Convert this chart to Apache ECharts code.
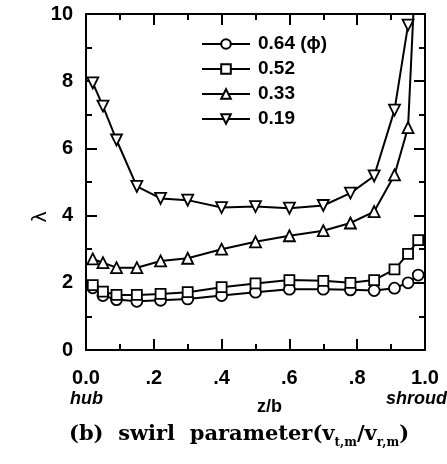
<!DOCTYPE html>
<html>
<head>
<meta charset="utf-8">
<script src="https://cdn.jsdelivr.net/npm/echarts@6/dist/echarts.min.js"></script>
<style>
html, body { margin: 0; padding: 0; background: #fff; }
#chart { width: 447px; height: 464px; }
</style>
</head>
<body>
<div id="chart"></div>
<script>
// z/b positions of measured stations
const zb = [0.02, 0.05, 0.09, 0.15, 0.22, 0.30, 0.40, 0.50, 0.60, 0.70, 0.78, 0.85, 0.91, 0.95, 0.98];
// swirl parameter lambda for each flow coefficient
const phi064 = [1.85, 1.62, 1.50, 1.45, 1.48, 1.52, 1.62, 1.72, 1.81, 1.81, 1.79, 1.77, 1.84, 2.00, 2.23];
const phi052 = [1.93, 1.74, 1.64, 1.64, 1.67, 1.72, 1.87, 1.98, 2.08, 2.06, 2.00, 2.08, 2.40, 2.86, 3.27];
const phi033 = [2.71, 2.60, 2.45, 2.45, 2.65, 2.73, 3.00, 3.22, 3.40, 3.55, 3.78, 4.12, 5.21, 6.62, 13.1];
const phi019 = [7.95, 7.26, 6.25, 4.87, 4.51, 4.46, 4.24, 4.27, 4.22, 4.30, 4.67, 5.18, 7.14, 9.67];
const seriesNames = ['0.64 (\u03d5)', '0.52', '0.33', '0.19'];
const symbols = ['circle', 'rect', 'triangle', 'path://M0,0 L10,0 L5,9 Z'];
const xTickLabels = { 0: '0.0', 2: '.2', 4: '.4', 6: '.6', 8: '.8', 10: '1.0' };
const yTickLabels = [0, 2, 4, 6, 8, 10];

const chart = echarts.init(document.getElementById('chart'));
const sansBold = { fontFamily: 'Liberation Sans', fontWeight: 'bold', fontSize: 20, color: '#000' };

const pairs = (ys) => ys.map((y, i) => [zb[i], y]);
const allData = [phi064, phi052, phi033, phi019];

const axisBase = {
	axisLine: { show: true, onZero: false, lineStyle: { color: '#000', width: 2 } },
	axisTick: { show: true, inside: true, length: 11, lineStyle: { color: '#000', width: 2 } },
	minorTick: { show: true, splitNumber: 2, length: 6, lineStyle: { color: '#000', width: 2 } },
	splitLine: { show: false },
};

const option = {
	animation: false,
	grid: { left: 86, right: 22, top: 14, bottom: 114 },
	legend: {
		orient: 'vertical',
		left: 196,
		top: 29,
		itemWidth: 48,
		itemHeight: 12,
		itemGap: 5,
		textStyle: Object.assign({}, sansBold, { fontSize: 19, padding: [0, 0, 0, 3], lineHeight: 20 }),
		data: seriesNames,
	},
	xAxis: [
		Object.assign({}, axisBase, {
			type: 'value', min: 0, max: 1, interval: 0.2, position: 'bottom',
			axisLabel: Object.assign({}, sansBold, {
				margin: 18,
				formatter: (v) => xTickLabels[Math.round(v * 10)] || '',
			}),
		}),
		Object.assign({}, axisBase, {
			type: 'value', min: 0, max: 1, interval: 0.2, position: 'top',
			axisLabel: { show: false },
		}),
	],
	yAxis: [
		Object.assign({}, axisBase, {
			type: 'value', min: 0, max: 10, interval: 2, position: 'left',
			axisLabel: Object.assign({}, sansBold, {
				margin: 13,
				formatter: (v) => (yTickLabels.indexOf(v) >= 0 ? String(v) : ''),
			}),
		}),
		Object.assign({}, axisBase, {
			type: 'value', min: 0, max: 10, interval: 2, position: 'right',
			axisLabel: { show: false },
		}),
	],
	series: seriesNames.map((name, k) => ({
		name: name,
		type: 'line',
		data: pairs(allData[k]),
		clip: true,
		symbol: symbols[k],
		symbolSize: k === 1 ? 10 : 11,
		showAllSymbol: true,
		itemStyle: { color: '#fff', borderColor: '#000', borderWidth: 1.8 },
		lineStyle: { color: '#000', width: 2 },
		emphasis: { disabled: true },
	})),
	graphic: [
		{
			type: 'text', x: 41, y: 217, rotation: Math.PI / 2,
			style: { text: '\u03bb', font: '19px "DejaVu Sans"', fill: '#000', align: 'center', verticalAlign: 'middle' },
		},
		{
			type: 'text', left: 70, top: 390,
			style: { text: 'hub', font: 'italic bold 18px "Liberation Sans"', fill: '#000' },
		},
		{
			type: 'text', left: 257, top: 398,
			style: { text: 'z/b', font: 'bold 18px "Liberation Sans"', fill: '#000' },
		},
		{
			type: 'text', right: 0, top: 390,
			style: { text: 'shroud', font: 'italic bold 18px "Liberation Sans"', fill: '#000' },
		},
		{
			type: 'text', left: 69, top: 424,
			style: {
				text: '{m|(b)  swirl  parameter(v}{s|t,m}{m|/v}{s|r,m}{m|)}',
				rich: {
					m: { fontFamily: 'DejaVu Serif', fontWeight: 'bold', fontSize: 21, fill: '#000', verticalAlign: 'bottom' },
					s: { fontFamily: 'DejaVu Serif', fontWeight: 'bold', fontSize: 12, fill: '#000', verticalAlign: 'bottom', padding: [0, 0, -4, 0] },
				},
			},
		},
	],
};
chart.setOption(option);
</script>
</body>
</html>
